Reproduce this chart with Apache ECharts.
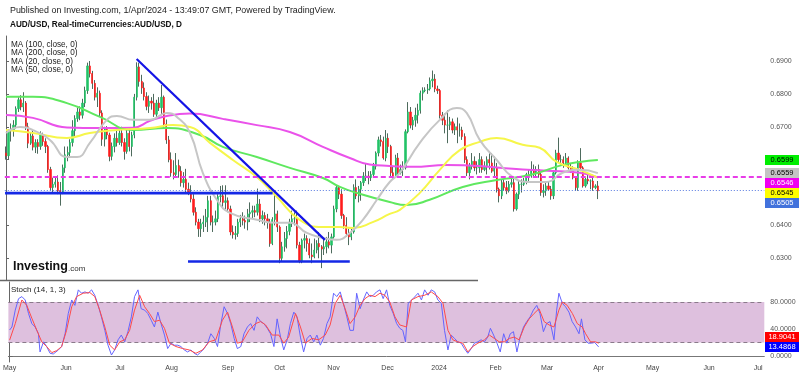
<!DOCTYPE html>
<html><head><meta charset="utf-8">
<script src="https://cdn.jsdelivr.net/npm/echarts@6/dist/echarts.min.js"></script>
<style>html,body{margin:0;padding:0;background:#fff}#c{width:800px;height:375px}</style>
</head><body><div id="c"></div>
<script>
// ---------- calendar (weekday slots, TradingView FX daily) ----------
const FIRST_DAY = [2023, 4, 1];   // 1 May 2023
const SLOT_COUNT = 308;            // through early July 2024
const monthText = ['2024','Feb','Mar','Apr','May','Jun','Jul','Aug','Sep','Oct','Nov','Dec'];

// ---------- AUD/USD daily candles [open, close, low, high] ----------
const candlesMay = [
[.6620,.6612,.6600,.6640],[.6612,.6688,.6600,.6692],[.6688,.6690,.6655,.6710],[.6690,.6705,.6670,.6720],
[.6705,.6755,.6695,.6762],[.6755,.6782,.6745,.6790],[.6782,.6760,.6750,.6796],[.6760,.6772,.6745,.6805],
[.6772,.6700,.6690,.6778],[.6700,.6650,.6635,.6712],[.6650,.6672,.6645,.6682],[.6672,.6638,.6628,.6688],
[.6638,.6652,.6620,.6662],[.6652,.6640,.6618,.6662],[.6640,.6675,.6630,.6686],[.6675,.6655,.6642,.6682],
[.6655,.6640,.6620,.6665],[.6640,.6570,.6560,.6645],[.6570,.6515,.6505,.6578],[.6515,.6525,.6498,.6545],
[.6525,.6532,.6515,.6548],[.6532,.6505,.6495,.6552],[.6505,.6500,.6460,.6532]];
const candlesJun = [
[.6500,.6575,.6495,.6585],[.6575,.6615,.6560,.6640],[.6615,.6622,.6595,.6640],[.6622,.6652,.6610,.6662],
[.6652,.6688,.6640,.6720],[.6688,.6725,.6672,.6735],[.6725,.6745,.6715,.6758],[.6745,.6735,.6720,.6762],
[.6735,.6772,.6725,.6785],[.6772,.6810,.6760,.6822],[.6810,.6885,.6800,.6895],[.6885,.6862,.6850,.6900],
[.6862,.6832,.6815,.6870],[.6832,.6790,.6780,.6842],[.6790,.6802,.6760,.6820],[.6802,.6742,.6730,.6810],
[.6742,.6662,.6642,.6750],[.6662,.6695,.6640,.6700],[.6695,.6675,.6662,.6702],[.6675,.6610,.6595,.6682],
[.6610,.6640,.6598,.6652],[.6640,.6665,.6622,.6680]];
const candlesJul = [
[.6665,.6652,.6640,.6690],[.6652,.6680,.6645,.6692],[.6680,.6652,.6640,.6700],[.6652,.6625,.6600,.6665],
[.6625,.6680,.6618,.6690],[.6680,.6640,.6625,.6698],[.6640,.6675,.6610,.6685],[.6675,.6790,.6665,.6800],
[.6790,.6882,.6780,.6896],[.6882,.6838,.6822,.6895],[.6838,.6818,.6800,.6858],[.6818,.6792,.6780,.6835],
[.6792,.6762,.6750,.6805],[.6762,.6778,.6742,.6795],[.6778,.6772,.6752,.6790],[.6772,.6738,.6730,.6800],
[.6738,.6772,.6728,.6782],[.6772,.6758,.6748,.6790],[.6758,.6790,.6735,.6827],[.6790,.6708,.6698,.6795],
[.6708,.6660,.6648,.6722]];
const candlesAug = [
[.6660,.6600,.6592,.6672],[.6600,.6560,.6548,.6622],[.6560,.6555,.6540,.6598],[.6555,.6582,.6545,.6620],
[.6582,.6565,.6545,.6600],[.6565,.6530,.6518,.6580],[.6530,.6540,.6515,.6562],[.6540,.6510,.6500,.6572],
[.6510,.6500,.6492,.6530],[.6500,.6480,.6470,.6522],[.6480,.6440,.6430,.6495],[.6440,.6410,.6400,.6455],
[.6410,.6390,.6365,.6420],[.6390,.6405,.6365,.6420],[.6405,.6410,.6380,.6430],[.6410,.6425,.6395,.6450],
[.6425,.6475,.6380,.6490],[.6475,.6410,.6400,.6490],[.6410,.6410,.6380,.6430],[.6410,.6420,.6400,.6445],
[.6420,.6488,.6410,.6495],[.6488,.6490,.6470,.6520],[.6490,.6470,.6450,.6522]];
const candlesSep = [
[.6470,.6475,.6450,.6522],[.6475,.6450,.6440,.6485],[.6450,.6380,.6370,.6460],[.6380,.6372,.6360,.6400],
[.6372,.6375,.6357,.6398],[.6375,.6410,.6365,.6420],[.6410,.6420,.6395,.6432],[.6420,.6415,.6400,.6440],
[.6415,.6410,.6390,.6430],[.6410,.6435,.6385,.6450],[.6435,.6440,.6410,.6470],[.6440,.6445,.6420,.6460],
[.6445,.6440,.6425,.6460],[.6440,.6465,.6430,.6512],[.6465,.6420,.6410,.6480],[.6420,.6430,.6405,.6445],
[.6430,.6420,.6400,.6440],[.6420,.6410,.6390,.6435],[.6410,.6345,.6335,.6420],[.6345,.6418,.6340,.6425],
[.6418,.6435,.6400,.6500]];
const candlesOct = [
[.6435,.6395,.6380,.6445],[.6395,.6300,.6285,.6400],[.6300,.6335,.6290,.6350],[.6335,.6360,.6320,.6380],
[.6360,.6382,.6330,.6398],[.6382,.6410,.6370,.6420],[.6410,.6420,.6395,.6445],[.6420,.6420,.6400,.6440],
[.6420,.6340,.6330,.6445],[.6340,.6290,.6285,.6350],[.6290,.6355,.6285,.6360],[.6355,.6360,.6330,.6375],
[.6360,.6345,.6320,.6370],[.6345,.6310,.6300,.6360],[.6310,.6305,.6285,.6345],[.6305,.6325,.6300,.6360],
[.6325,.6345,.6315,.6355],[.6345,.6335,.6300,.6380],[.6335,.6328,.6270,.6340],[.6328,.6335,.6310,.6360],
[.6335,.6350,.6315,.6365],[.6350,.6340,.6330,.6380]];
const candlesNov = [
[.6340,.6365,.6315,.6375],[.6365,.6450,.6360,.6460],[.6450,.6515,.6440,.6522],[.6515,.6495,.6480,.6520],
[.6495,.6430,.6420,.6510],[.6430,.6400,.6390,.6435],[.6400,.6375,.6365,.6425],[.6375,.6365,.6340,.6390],
[.6365,.6380,.6355,.6395],[.6380,.6515,.6375,.6525],[.6515,.6490,.6480,.6540],[.6490,.6510,.6470,.6520],
[.6510,.6530,.6475,.6535],[.6530,.6550,.6520,.6562],[.6550,.6550,.6535,.6588],[.6550,.6545,.6525,.6565],
[.6545,.6555,.6535,.6565],[.6555,.6580,.6545,.6590],[.6580,.6620,.6570,.6625],[.6620,.6660,.6610,.6670],
[.6660,.6655,.6640,.6675],[.6655,.6605,.6600,.6670]];
const candlesDec = [
[.6605,.6665,.6595,.6690],[.6665,.6640,.6620,.6680],[.6640,.6560,.6550,.6645],[.6560,.6550,.6540,.6580],
[.6550,.6605,.6545,.6615],[.6605,.6560,.6550,.6620],[.6560,.6570,.6555,.6585],[.6570,.6575,.6550,.6595],
[.6575,.6685,.6570,.6692],[.6685,.6745,.6680,.6775],[.6745,.6705,.6695,.6760],[.6705,.6720,.6690,.6730],
[.6720,.6735,.6700,.6758],[.6735,.6750,.6710,.6770],[.6750,.6802,.6740,.6810],[.6802,.6810,.6780,.6820],
[.6810,.6812,.6805,.6820],[.6812,.6815,.6800,.6830],[.6815,.6840,.6810,.6850],[.6840,.6845,.6820,.6871],
[.6845,.6815,.6805,.6860]];
const candlesJan = [
[.6815,.6810,.6800,.6825],[.6810,.6735,.6725,.6815],[.6735,.6720,.6705,.6745],[.6720,.6705,.6680,.6740],
[.6705,.6705,.6650,.6750],[.6705,.6715,.6690,.6730],[.6715,.6690,.6680,.6725],[.6690,.6700,.6675,.6710],
[.6700,.6690,.6650,.6728],[.6690,.6690,.6670,.6710],[.6690,.6670,.6660,.6700],[.6670,.6600,.6590,.6680],
[.6600,.6560,.6550,.6610],[.6560,.6580,.6540,.6590],[.6580,.6595,.6570,.6620],[.6595,.6575,.6565,.6610],
[.6575,.6575,.6555,.6595],[.6575,.6600,.6560,.6620],[.6600,.6570,.6560,.6610],[.6570,.6580,.6565,.6595],
[.6580,.6600,.6555,.6610],[.6600,.6590,.6570,.6625],[.6590,.6565,.6560,.6620]];
const candlesFeb = [
[.6565,.6575,.6545,.6610],[.6575,.6510,.6500,.6590],[.6510,.6490,.6470,.6515],[.6490,.6530,.6480,.6540],
[.6530,.6515,.6505,.6540],[.6515,.6505,.6495,.6535],[.6505,.6525,.6500,.6535],[.6525,.6530,.6515,.6545],
[.6530,.6450,.6442,.6545],[.6450,.6495,.6445,.6500],[.6495,.6525,.6480,.6535],[.6525,.6525,.6500,.6540],
[.6525,.6535,.6520,.6545],[.6535,.6555,.6525,.6560],[.6555,.6550,.6535,.6570],[.6550,.6570,.6545,.6595],
[.6570,.6560,.6545,.6585],[.6560,.6570,.6550,.6580],[.6570,.6555,.6545,.6585],[.6555,.6500,.6490,.6560],
[.6500,.6505,.6485,.6525]];
const candlesMar = [
[.6505,.6520,.6490,.6530],[.6520,.6510,.6505,.6535],[.6510,.6490,.6478,.6520],[.6490,.6560,.6480,.6565],
[.6560,.6620,.6555,.6630],[.6620,.6600,.6590,.6667],[.6600,.6600,.6585,.6615],[.6600,.6590,.6575,.6610],
[.6590,.6605,.6585,.6620],[.6605,.6575,.6570,.6610],[.6575,.6565,.6560,.6590],[.6565,.6545,.6540,.6580],
[.6545,.6515,.6505,.6550],[.6515,.6590,.6505,.6598],[.6590,.6575,.6565,.6635],[.6575,.6520,.6515,.6580],
[.6520,.6540,.6515,.6545],[.6540,.6535,.6525,.6560],[.6535,.6535,.6510,.6540],[.6535,.6515,.6505,.6545],
[.6515,.6520,.6510,.6525]];
const candlesApr = [[.6520,.6505,.6480,.6535]];

// ---------- moving averages: [bar slot, price] ----------
const ma100 = [[0,.6791],[10.9,.6791],[24.7,.6772],[38.1,.6730],[51.5,.6690],[65.2,.6696],[78.6,.6675],[87.9,.6639],
 [101.7,.6608],[115.1,.6575],[128.5,.6544],[135.4,.6517],[142.2,.6499],[155.6,.6471],[162.5,.6462],[171.8,.6478],
 [185.2,.6517],[199,.6538],[212.4,.6553],[225.7,.6584],[232.6,.6593],[240,.6599]];
const ma200 = [[0,.6736],[10.9,.6727],[24.7,.6698],[38.1,.6696],[51.5,.6697],[58.4,.6718],[65.2,.6733],[74.6,.6740],
 [87.9,.6724],[101.7,.6705],[115.1,.6684],[128.5,.6639],[139.4,.6605],[147.5,.6585],[155.6,.6581],[164.9,.6578],
 [178.7,.6584],[192.1,.6581],[205.5,.6572],[219.2,.6566],[232.6,.6560],[240,.6546]];
const ma20 = [[0,.6681],[5.7,.6699],[10.9,.6690],[17.8,.6660],[24.7,.6608],[28.8,.6608],[34,.6651],[40.9,.6721],
 [45,.6733],[51.5,.6721],[58.4,.6721],[65.2,.6742],[69.3,.6730],[74.6,.6681],[79.8,.6560],[85.5,.6478],[90.8,.6438],
 [101.7,.6417],[109.8,.6408],[115.1,.6408],[122,.6377],[128.5,.6362],[134.1,.6356],[139.4,.6377],[144.7,.6417],
 [150.4,.6478],[155.6,.6532],[159.7,.6560],[167.8,.6651],[175.9,.6721],[182.8,.6757],[186.8,.6742],[192.1,.6660],
 [199,.6599],[205.5,.6547],[212.4,.6532],[219.2,.6532],[225.7,.6560],[232.6,.6569],[240,.6559]];
const ma50 = [[0,.6690],[10.9,.6681],[24.7,.6666],[34,.6681],[45,.6690],[58.4,.6696],[67.7,.6705],[74.6,.6699],
 [82.7,.6651],[92,.6599],[101.7,.6547],[109.8,.6487],[119.1,.6417],[128.5,.6395],[135.4,.6395],[140.6,.6392],
 [148.7,.6410],[155.6,.6435],[159.7,.6447],[167.8,.6499],[175.9,.6569],[184,.6629],[192.1,.6654],[199,.6666],
 [209.5,.6645],[216.4,.6636],[223.3,.6593],[232.6,.6569],[240,.6545]];

// ---------- drawings ----------
const downTrend = [[52.97,.6906],[129.3,.6356]];
const supportLeft = [[-0.4,.6498],[108.1,.6498]];
const supportLow = [[73.8,.6290],[139.4,.6290]];
const levelDashed = .6548;
const lastPriceLine = .6507;

// ---------- Stochastic (14,1,3): [bar slot, value] ----------
const stochK = [[0,38.5],[0.95,43],[2.3,68],[3.65,85],[5,88],[6.35,83],[7.7,63],[9.05,48],[10.4,43],[11.75,33],[12.4,6],
[13.8,21],[15.1,14],[16.5,4],[17.8,3],[19.9,9],[21.2,14],[22.6,33],[23.9,63],[25.3,83],[26.6,75],[28,98],[29.3,93],
[30.7,95],[32,93],[33.4,98],[34.7,90],[36.1,75],[37.4,58],[38.8,38],[40.1,16],[41.5,1.5],[42.8,9],[44.2,24],[45.5,31],
[46.9,21],[48.2,36],[49.6,58],[50.9,88],[52.3,98],[53.6,70],[55,68],[56.3,63],[57.7,53],[59,43],[60.4,65],[61.7,48],
[63.1,31],[64.4,11],[65.8,19],[67.1,16],[68.5,16],[69.8,14],[71.2,9],[72.5,6],[73.9,9],[75.2,4],[76.6,1.5],[77.9,6],
[79.3,11],[80.7,19],[82,33],[83.4,26],[84.7,14],[86.1,48],[87.4,73],[88.8,63],[90.1,48],[91.5,26],[92.8,11],[94.2,14],
[95.5,33],[96.9,43],[98.2,48],[99.6,38],[100.9,58],[102.3,51],[103.6,48],[105,41],[106.3,33],[107.7,14],[109,55],
[110.4,28],[111.7,9],[113.1,24],[114.4,48],[115.8,65],[117.1,58],[118.5,28],[119.8,6],[121.2,26],[122.5,31],[123.9,21],
[125.2,31],[126.6,16],[127.9,26],[129.3,48],[130.6,58],[132,93],[133.3,88],[134.7,95],[136,78],[137.4,58],[138.7,38],
[140.1,38],[141.4,93],[142.8,70],[144.1,83],[145.5,95],[146.8,88],[148.2,90],[149.5,95],[150.9,98],[152.2,85],[153.6,98],
[154.9,75],[156.3,63],[157.7,48],[159,41],[160.2,38],[161.3,21],[162.4,78],[164.4,85],[166.4,93],[167.8,83],[169.1,98],
[170.5,90],[171.8,98],[173.2,95],[174.5,83],[175.9,78],[177.2,38],[178.6,9],[179.9,31],[181.3,26],[182.6,21],[184,19],
[185.3,11],[186.7,4],[188.1,11],[189.4,19],[190.8,21],[192.1,24],[193.5,21],[194.8,28],[195.9,41],[197.2,31],[198.6,19],
[199.9,6],[201.3,33],[202.6,19],[204,33],[205.3,36],[206.7,6],[208,28],[209.4,43],[210.7,51],[212.1,58],[213.4,68],
[214.8,75],[216.1,63],[217.5,36],[218.8,48],[220.2,51],[221.8,24],[222.9,68],[223.8,93],[225.2,78],[226.5,73],[227.9,65],
[229.2,51],[230.6,43],[232,33],[233,55],[234.4,24],[235.7,19],[237.1,19],[238.4,20],[239.2,21],[240,13.4868]];
const stochD = [[0,23.5],[2.3,48],[5,83],[7,75],[9.05,56],[11.1,38],[13.1,21],[15.1,14],[17.2,5],[19.2,8],[21.2,14],
[23.2,38],[25.3,73],[27.3,88],[30,93],[32.7,94],[34.7,88],[36.7,68],[38.8,43],[40.8,16],[42.8,9],[44.9,21],[46.9,24],
[48.9,38],[50.9,68],[53,90],[55,73],[57,63],[59,51],[61.1,53],[63.1,41],[65.1,19],[67.8,14],[70.5,11],[73.2,9],[75.9,4],
[78.6,9],[81.3,21],[84,24],[86.7,53],[88.8,65],[90.8,43],[92.8,19],[94.8,21],[97.5,38],[100.2,48],[102.3,51],[104.3,46],
[107,31],[109.7,31],[111.7,19],[113.7,28],[116.5,63],[118.5,43],[120.5,19],[123.2,26],[125.9,24],[128.6,31],[130.6,46],
[132.7,78],[134.7,90],[136.7,70],[138.7,48],[140.8,58],[142.8,75],[144.8,85],[146.8,90],[148.9,88],[150.9,93],[152.9,90],
[154.9,80],[157,58],[159,46],[161.7,43],[163.7,83],[166.4,88],[169.1,90],[171.8,95],[174.5,88],[176.6,78],[178.6,38],
[180.6,24],[182.6,21],[184.7,19],[186.7,6],[188.7,14],[190.8,19],[193.5,24],[195.5,31],[197.5,26],[199.5,21],[201.6,21],
[203.6,26],[205.6,28],[207.6,24],[209.7,43],[211.7,55],[213.7,63],[215.7,70],[217.8,51],[219.8,46],[221.8,43],[223.8,68],
[225.2,80],[227.2,75],[229.3,63],[231.3,48],[233.3,43],[234.7,33],[236.7,21],[238.7,21],[240,18.9041]];

const priceTicks = [.63,.64,.65,.66,.67,.68,.69];
const stochTicks = [0,40,80];
const stochBand = [20,80];
const lastMain = [
  {v:.6599, bg:'#00ee00', fg:'#000'},
  {v:.6559, bg:'#c4c4c4', fg:'#000'},
  {v:.6546, bg:'#f000f0', fg:'#fff'},
  {v:.6545, bg:'#ffff00', fg:'#000'},
  {v:.6505, bg:'#4272dc', fg:'#fff'}];
const lastStoch = [
  {v:18.9041, bg:'#ff0000', fg:'#fff'},
  {v:13.4868, bg:'#0000ff', fg:'#fff'}];

// ---------- build ----------
const FONT = '"Liberation Sans", Arial, sans-serif';
function buildSlots(){
  const out=[]; const d=new Date(Date.UTC(FIRST_DAY[0],FIRST_DAY[1],FIRST_DAY[2]));
  while(out.length<SLOT_COUNT){ const w=d.getUTCDay(); if(w!==0&&w!==6) out.push(d.toISOString().slice(0,10)); d.setUTCDate(d.getUTCDate()+1); }
  return out;
}
const slots = buildSlots();
const monthStarts = [], monthLabel = {};
slots.forEach((s,i)=>{ if(i===0 || s.slice(5,7)!==slots[i-1].slice(5,7)){ monthStarts.push(i); monthLabel[i]=monthText[parseInt(s.slice(5,7),10)-1]; }});

const candles = [].concat(candlesMay,candlesJun,candlesJul,candlesAug,candlesSep,candlesOct,candlesNov,candlesDec,candlesJan,candlesFeb,candlesMar,candlesApr);
const bodies = candles.map(c=>[c[0],c[1],Math.min(c[0],c[1]),Math.max(c[0],c[1])]);

const PMIN=.623393, PMAX=.697603, SMIN=-8.89, SMAX=109.63;
const chart = echarts.init(document.getElementById('c'));

const maLine = (data,color)=>({type:'line',xAxisIndex:1,yAxisIndex:0,data,smooth:0.5,symbol:'none',z:4,
  lineStyle:{color,width:2},silent:true});
const drawLine = (data,extra)=>({type:'line',xAxisIndex:1,yAxisIndex:0,data,symbol:'none',z:6,silent:true,
  lineStyle:{color:'#1414e6',width:2.2},...extra});

chart.setOption({
  animation:false,
  textStyle:{fontFamily:FONT},
  grid:[{left:4.8,right:35.7,top:36,height:244},{left:4.8,right:35.7,top:282,height:80}],
  xAxis:[
    {type:'category',gridIndex:0,data:slots,boundaryGap:true,show:false},
    {type:'value',gridIndex:0,min:-0.5,max:SLOT_COUNT-0.5,show:false},
    {type:'value',gridIndex:1,min:-0.5,max:SLOT_COUNT-0.5,splitLine:{show:false},
      axisLine:{show:true,lineStyle:{color:'#777',width:1}},axisTick:{show:false},
      axisLabel:{customValues:monthStarts,formatter:v=>monthLabel[Math.round(v)]||'',fontSize:7,color:'#444',margin:3,fontFamily:FONT,showMinLabel:true,showMaxLabel:true}}
  ],
  yAxis:[
    {type:'value',gridIndex:0,position:'right',min:PMIN,max:PMAX,splitLine:{show:false},
      axisLine:{show:true,lineStyle:{color:'#666'}},axisTick:{show:true,length:3,customValues:priceTicks,lineStyle:{color:'#666'}},
      axisLabel:{customValues:priceTicks,formatter:v=>v.toFixed(4),fontSize:7,color:'#555',margin:6,fontFamily:FONT}},
    {type:'value',gridIndex:1,position:'right',min:SMIN,max:SMAX,splitLine:{show:false},
      axisLine:{show:true,lineStyle:{color:'#666'}},axisTick:{show:true,length:3,customValues:stochTicks,lineStyle:{color:'#666'}},
      axisLabel:{customValues:stochTicks,formatter:v=>v.toFixed(4),fontSize:7,color:'#555',margin:6,fontFamily:FONT}}
  ],
  series:[
    {type:'candlestick',xAxisIndex:0,yAxisIndex:0,data:candles,barWidth:1,z:2,silent:true,
      itemStyle:{color:'#4e6b5d',color0:'#4e6b5d',borderColor:'#4e6b5d',borderColor0:'#4e6b5d',borderWidth:1}},
    {type:'candlestick',xAxisIndex:0,yAxisIndex:0,data:bodies,barWidth:'72%',z:3,silent:true,
      itemStyle:{color:'#22c267',color0:'#ff1c1c',borderColor:'#22c267',borderColor0:'#ff1c1c',borderWidth:0.6}},
    maLine(ma200,'#ea52ea'),
    maLine(ma100,'#5fe85f'),
    maLine(ma50,'#f6f64a'),
    maLine(ma20,'#c6c6c6'),
    drawLine(downTrend,{}),
    drawLine(supportLeft,{lineStyle:{color:'#1428e6',width:2.6}}),
    drawLine(supportLow,{lineStyle:{color:'#1428e6',width:2.6},
      markLine:{silent:true,symbol:'none',precision:6,label:{show:false},data:[
        {yAxis:levelDashed,lineStyle:{color:'#e83ce8',width:2,type:[5,3]}},
        {yAxis:lastPriceLine,lineStyle:{color:'#5578e0',width:1,type:[1,2]}}]}}),
    {type:'line',xAxisIndex:2,yAxisIndex:1,data:stochK,symbol:'none',z:5,silent:true,lineStyle:{color:'#6464ff',width:1},
      markArea:{silent:true,itemStyle:{color:'#dec0de'},data:[[{yAxis:stochBand[0]},{yAxis:stochBand[1]}]]},
      markLine:{silent:true,symbol:'none',precision:4,label:{show:false},lineStyle:{color:'#8a7a8a',width:1,type:[4,3]},
        data:[{yAxis:stochBand[0]},{yAxis:stochBand[1]}]}},
    {type:'line',xAxisIndex:2,yAxisIndex:1,data:stochD,symbol:'none',z:6,silent:true,lineStyle:{color:'#ff4a4a',width:1}}
  ]
});

// ---------- texts and value tags ----------
const g = [];
const txt = (x,y,text,size,extra)=>g.push({type:'text',x,y,z:50,style:Object.assign({text,fontSize:size,fontFamily:FONT,fill:'#222',verticalAlign:'middle'},extra||{})});
txt(10,11,'Published on Investing.com, 1/Apr/2024 - 13:49:07 GMT, Powered by TradingView.',8.9);
txt(10,25,'AUD/USD, Real-timeCurrencies:AUD/USD, D',8.2,{fontWeight:'bold',fill:'#111'});
txt(11,44.5,'MA (100, close, 0)',8.2);
txt(11,53,'MA (200, close, 0)',8.2);
txt(11,61.5,'MA (20, close, 0)',8.2);
txt(11,70,'MA (50, close, 0)',8.2);
txt(13,267,'Investing',12.5,{fontWeight:'bold',fill:'#111'});
txt(68,268.5,'.com',8,{fill:'#333'});
txt(11,290,'Stoch (14, 1, 3)',8);
g.push({type:'line',z:50,shape:{x1:0,y1:280.5,x2:478,y2:280.5},style:{stroke:'#666',lineWidth:1.5}});

const tag = (t)=>{ g.push({type:'rect',z:60,shape:{x:765,y:t.y-5,width:34,height:10},style:{fill:t.bg}});
  g.push({type:'text',z:61,x:782,y:t.y,style:{text:t.v.toFixed(4),fontSize:7.5,fontFamily:FONT,fill:t.fg,align:'center',verticalAlign:'middle'}}); };
const mainTags = lastMain.map(t=>Object.assign({},t,{y:chart.convertToPixel({yAxisIndex:0},t.v)})).sort((a,b)=>a.y-b.y);
let prev=-1e9; mainTags.forEach(t=>{ t.y=Math.max(t.y,prev+10); prev=t.y; tag(t); });
const stTags = lastStoch.map(t=>Object.assign({},t,{y:chart.convertToPixel({yAxisIndex:1},t.v)})).sort((a,b)=>b.y-a.y);
let nxt=1e9; stTags.forEach(t=>{ t.y=Math.min(t.y,nxt-10); nxt=t.y; tag(t); });
chart.setOption({graphic:g});
</script></body></html>
